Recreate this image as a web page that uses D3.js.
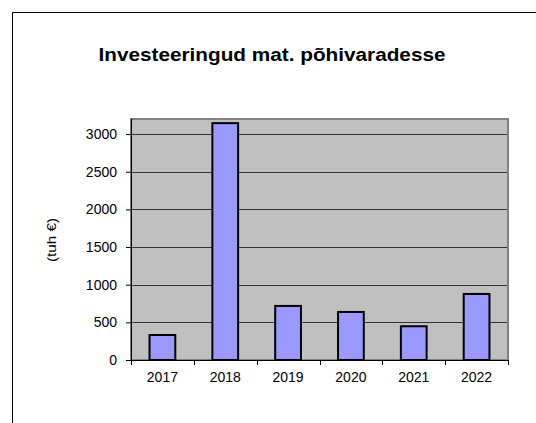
<!DOCTYPE html>
<html lang="en">
<head>
  <meta charset="UTF-8">
  <title>Investeeringud</title>
  <script src="https://cdn.jsdelivr.net/npm/d3@7.9.0/dist/d3.min.js"></script>
  <style>
    body { margin: 0; background: #fff; }
    svg text { font-family: "Liberation Sans", Arial, sans-serif; fill: #000; }
  </style>
</head>
<body>
  <div id="chart"></div>
  <script>
    const years = ["2017", "2018", "2019", "2020", "2021", "2022"];
    const values = [332, 3145, 718, 638, 448, 877];
    const yTicks = [0, 500, 1000, 1500, 2000, 2500, 3000];

    const width = 536, height = 423;
    const plot = { left: 131, top: 119, right: 508, bottom: 360 };

    const svg = d3.select("#chart").append("svg")
      .attr("width", width)
      .attr("height", height);

    // outer frame
    svg.append("path")
      .attr("d", `M12.5,${height} V12.5 H${width}`)
      .attr("fill", "none")
      .attr("stroke", "#000")
      .attr("stroke-width", 1);

    svg.append("text")
      .attr("x", 272)
      .attr("y", 61)
      .attr("text-anchor", "middle")
      .attr("font-size", "18px")
      .attr("font-weight", "bold")
      .attr("textLength", 347)
      .attr("lengthAdjust", "spacingAndGlyphs")
      .text("Investeeringud mat. põhivaradesse");

    const x = d3.scaleBand()
      .domain(years)
      .range([plot.left, plot.right])
      .paddingInner(0.59)
      .paddingOuter(0.295);

    const y = d3.scaleLinear()
      .domain([0, 3200])
      .range([plot.bottom, plot.top]);

    svg.append("rect")
      .attr("x", plot.left)
      .attr("y", plot.top)
      .attr("width", plot.right - plot.left)
      .attr("height", plot.bottom - plot.top)
      .attr("fill", "#c0c0c0")
      .attr("stroke", "#808080")
      .attr("stroke-width", 2);

    // gridlines
    svg.append("g")
      .selectAll("line")
      .data(yTicks.filter(d => d > 0))
      .enter().append("line")
      .attr("x1", plot.left)
      .attr("x2", plot.right - 1)
      .attr("y1", d => Math.round(y(d)) + 0.5)
      .attr("y2", d => Math.round(y(d)) + 0.5)
      .attr("stroke", "#333")
      .attr("stroke-width", 1);

    svg.append("g")
      .selectAll("rect")
      .data(values)
      .enter().append("rect")
      .attr("x", (d, i) => x(years[i]))
      .attr("y", d => y(d))
      .attr("width", x.bandwidth())
      .attr("height", d => y(0) - y(d))
      .attr("fill", "#9999ff")
      .attr("stroke", "#000")
      .attr("stroke-width", 2);

    // y axis
    const yAxis = svg.append("g")
      .attr("transform", `translate(${plot.left},0)`)
      .call(d3.axisLeft(y)
        .tickValues(yTicks)
        .tickFormat(d3.format("d"))
        .tickSize(5)
        .tickPadding(9)
        .tickSizeOuter(0));
    yAxis.select(".domain").attr("d", `M0.5,${plot.top}V${plot.bottom}`);
    yAxis.selectAll("text")
      .attr("font-size", "14px")
      .style("font-family", "'Liberation Sans', Arial, sans-serif");

    // x axis with ticks between categories
    const xAxis = svg.append("g")
      .attr("transform", `translate(0,${plot.bottom})`);
    xAxis.append("line")
      .attr("x1", plot.left).attr("x2", plot.right)
      .attr("y1", 0.5).attr("y2", 0.5)
      .attr("stroke", "#000");
    const step = x.step();
    xAxis.selectAll("line.tick")
      .data(d3.range(years.length + 1))
      .enter().append("line")
      .attr("class", "tick")
      .attr("x1", i => Math.round(plot.left + i * step) + 0.5)
      .attr("x2", i => Math.round(plot.left + i * step) + 0.5)
      .attr("y1", 0).attr("y2", 5)
      .attr("stroke", "#000");
    xAxis.selectAll("text")
      .data(years)
      .enter().append("text")
      .attr("x", d => x(d) + x.bandwidth() / 2)
      .attr("y", 22)
      .attr("text-anchor", "middle")
      .attr("font-size", "14px")
      .text(d => d);

    svg.append("text")
      .attr("transform", "translate(56,240) rotate(-90)")
      .attr("text-anchor", "middle")
      .attr("font-size", "12px")
      .attr("textLength", 44)
      .attr("lengthAdjust", "spacingAndGlyphs")
      .text("(tuh €)");
  </script>
</body>
</html>
